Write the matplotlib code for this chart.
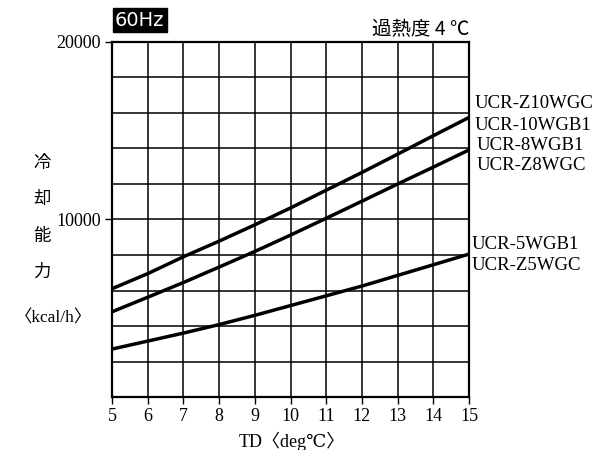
import matplotlib
matplotlib.use("Agg")
import matplotlib.pyplot as plt

td = [5, 6, 7, 8, 9, 10, 11, 12, 13, 14, 15]
cap_10 = [6100, 6950, 7900, 8780, 9700, 10650, 11650, 12650, 13680, 14720, 15750]
cap_8 = [4800, 5620, 6450, 7320, 8200, 9120, 10070, 11030, 12000, 12950, 13920]
cap_5 = [2700, 3150, 3600, 4080, 4600, 5150, 5700, 6250, 6850, 7450, 8050]
labels_10 = ["UCR-Z10WGC", "UCR-10WGB1"]
labels_8 = ["UCR-8WGB1", "UCR-Z8WGC"]
labels_5 = ["UCR-5WGB1", "UCR-Z5WGC"]
ytick_vals = [10000, 20000]
xtick_vals = list(range(5, 16))

serif = ["Liberation Serif", "DejaVu Serif"]
jp = ["Noto Sans CJK JP", "DejaVu Sans"]

fig = plt.figure(figsize=(6.09, 4.5), dpi=100)
ax = fig.add_axes([112/609, 1-397/450, (469-112)/609, (397-42)/450])
ax.set_xlim(5, 15)
ax.set_ylim(0, 20000)

for x in range(5, 16):
    ax.axvline(x, color="black", lw=1.1, zorder=1)
for y in range(0, 20001, 2000):
    ax.axhline(y, color="black", lw=1.1, zorder=1)

for series in (cap_10, cap_8, cap_5):
    ax.plot(td, series, color="black", lw=2.5, zorder=3, solid_capstyle="butt")

for s in ax.spines.values():
    s.set_linewidth(1.6)

ax.set_xticks(xtick_vals)
ax.set_xticklabels([str(v) for v in xtick_vals], family=serif, fontsize=13)
ax.set_yticks(ytick_vals)
ax.set_yticklabels([str(v) for v in ytick_vals], family=serif, fontsize=13)
ax.tick_params(axis="both", direction="out", length=5, width=1.0, color="black", pad=3)

# right-side labels
def lab(text, ypix, xpix):
    fig.text(xpix/609, 1-ypix/450, text, family=serif, fontsize=13.5,
             ha="left", va="center")

lab(labels_10[0], 103, 475)
lab(labels_10[1], 125, 475)
lab(labels_8[0], 146, 477)
lab(labels_8[1], 166, 477)
lab(labels_5[0], 245, 472)
lab(labels_5[1], 266, 472)

# 60Hz badge
fig.text(115/609, 1-20/450, "60Hz", family=["DejaVu Sans"], fontsize=14,
         color="white", ha="left", va="center",
         bbox=dict(boxstyle="square,pad=0.12", fc="black", ec="black"))

fig.text(470/609, 1-30/450, "過熱度 4 ℃", family=jp, fontsize=14,
         ha="right", va="center")

# y label stacked
for ch, yp in zip("冷却能力", [163, 199, 236, 272]):
    fig.text(42/609, 1-yp/450, ch, family=jp, fontsize=12.5, ha="center", va="center")
fig.text(53/609, 1-318/450, "〈kcal/h〉", family=serif + jp, fontsize=12.5,
         ha="center", va="center")

fig.text(292/609, 1-441/450, "TD〈deg℃〉", family=serif + jp, fontsize=13,
         ha="center", va="center")

fig.savefig("out.png", dpi=100)
